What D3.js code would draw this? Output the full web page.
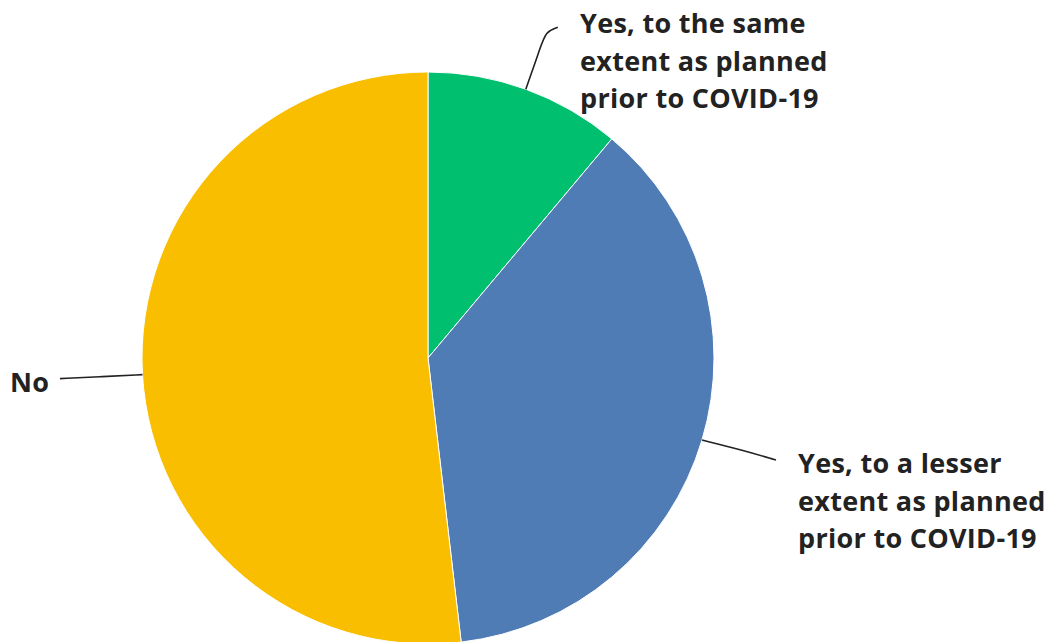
<!DOCTYPE html>
<html><head><meta charset="utf-8">
<script src="https://cdn.jsdelivr.net/npm/d3@7"></script>
<style>body{margin:0;background:#fff}svg{display:block}</style>
</head><body>
<script>
const categories = ["Yes, to the same extent as planned prior to COVID-19","Yes, to a lesser extent as planned prior to COVID-19","No"];
const labelLines = [["Yes, to the same","extent as planned","prior to COVID-19"],["Yes, to a lesser","extent as planned","prior to COVID-19"],["No"]];
const values = [11.11, 37.04, 51.85];
const colors = ["#00BF6F","#507CB6","#F9BE00"];

const W=1052,H=642;
const svg=d3.select("body").append("svg").attr("width",W).attr("height",H);
const cx=428, cy=358, R=286;
const g=svg.append("g").attr("transform",`translate(${cx},${cy})`);
const pie=d3.pie().sort(null).value(d=>d)(values);
const arc=d3.arc().innerRadius(0).outerRadius(R);
g.selectAll("path.s").data(pie).join("path").attr("class","s")
 .attr("d",arc).attr("fill",(d,i)=>colors[i]).attr("stroke","#fff").attr("stroke-width",1);

const labelPos=[{x:580,y:33},{x:798,y:473},{x:10,y:392}];
const font="'Open Sans', 'Liberation Sans', sans-serif";
labelPos.forEach((p,i)=>{
  const t=svg.append("text").attr("x",p.x).attr("y",p.y).attr("font-family",font)
    .attr("font-weight",700).attr("font-size",27).attr("letter-spacing",0.3).attr("fill","#222");
  labelLines[i].forEach((l,j)=>t.append("tspan").attr("x",p.x).attr("dy",j?37.5:0).text(l));
});

function edge(d,k){const a=(d.startAngle+d.endAngle)/2; return [cx+Math.sin(a)*R*k, cy-Math.cos(a)*R*k];}
const line=d3.line().curve(d3.curveBasis);
const e0=edge(pie[0],1.0), e1=edge(pie[1],1.0), e2=edge(pie[2],1.0);
svg.append("path").attr("d",line([e0,[e0[0]+14,e0[1]-40],[e0[0]+20,e0[1]-58],[e0[0]+32,e0[1]-62]]))
 .attr("fill","none").attr("stroke","#222").attr("stroke-width",1.6);
svg.append("path").attr("d",line([e1,[e1[0]+40,e1[1]+10],[e1[0]+74,e1[1]+20]]))
 .attr("fill","none").attr("stroke","#222").attr("stroke-width",1.6);
svg.append("path").attr("d",line([e2,[e2[0]-40,e2[1]+2],[60,e2[1]+4]]))
 .attr("fill","none").attr("stroke","#222").attr("stroke-width",1.6);
</script>
</body></html>
